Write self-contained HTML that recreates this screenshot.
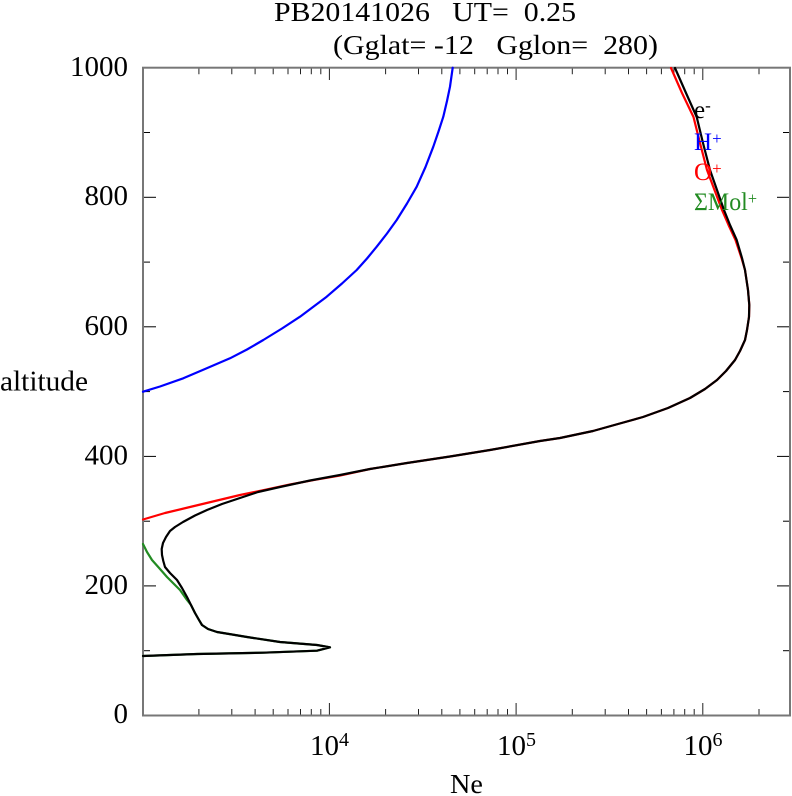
<!DOCTYPE html>
<html>
<head>
<meta charset="utf-8">
<style>
html,body{margin:0;padding:0;background:#fff;}
svg{display:block;}
text{font-family:"Liberation Serif","DejaVu Serif",serif;}
</style>
</head>
<body>
<svg width="792" height="796" viewBox="0 0 792 796" xmlns="http://www.w3.org/2000/svg">
<rect x="0" y="0" width="792" height="796" fill="#fff"/>

<!-- Title -->
<text x="274" y="21" font-size="27" textLength="302" lengthAdjust="spacingAndGlyphs" xml:space="preserve">PB20141026   UT=  0.25</text>
<text x="333" y="54" font-size="27" textLength="325" lengthAdjust="spacingAndGlyphs" xml:space="preserve">(Gglat= -12   Gglon=  280)</text>

<!-- Ticks -->
<g stroke="#000" stroke-width="1">
  <line x1="143" y1="715.5" x2="156" y2="715.5"/>
  <line x1="143" y1="585.9" x2="156" y2="585.9"/>
  <line x1="143" y1="456.4" x2="156" y2="456.4"/>
  <line x1="143" y1="326.8" x2="156" y2="326.8"/>
  <line x1="143" y1="197.3" x2="156" y2="197.3"/>
  <line x1="143" y1="650.7" x2="150" y2="650.7"/>
  <line x1="143" y1="521.2" x2="150" y2="521.2"/>
  <line x1="143" y1="391.6" x2="150" y2="391.6"/>
  <line x1="143" y1="262.1" x2="150" y2="262.1"/>
  <line x1="143" y1="132.5" x2="150" y2="132.5"/>
  <line x1="790" y1="585.9" x2="777" y2="585.9"/>
  <line x1="790" y1="456.4" x2="777" y2="456.4"/>
  <line x1="790" y1="326.8" x2="777" y2="326.8"/>
  <line x1="790" y1="197.3" x2="777" y2="197.3"/>
  <line x1="790" y1="650.7" x2="783" y2="650.7"/>
  <line x1="790" y1="521.2" x2="783" y2="521.2"/>
  <line x1="790" y1="391.6" x2="783" y2="391.6"/>
  <line x1="790" y1="262.1" x2="783" y2="262.1"/>
  <line x1="790" y1="132.5" x2="783" y2="132.5"/>
</g>
<g stroke="#222" stroke-width="1">
  <line x1="329.4" y1="715.5" x2="329.4" y2="703"/>
  <line x1="516.1" y1="715.5" x2="516.1" y2="703"/>
  <line x1="702.8" y1="715.5" x2="702.8" y2="703"/>
  <line x1="329.4" y1="67.7" x2="329.4" y2="80"/>
  <line x1="516.1" y1="67.7" x2="516.1" y2="80"/>
  <line x1="702.8" y1="67.7" x2="702.8" y2="80"/>
  <path d="
  M198.9 715.5 v-6.5 M231.8 715.5 v-6.5 M255.1 715.5 v-6.5 M273.2 715.5 v-6.5 M288.0 715.5 v-6.5 M300.5 715.5 v-6.5 M311.3 715.5 v-6.5 M320.8 715.5 v-6.5
  M385.6 715.5 v-6.5 M418.5 715.5 v-6.5 M441.8 715.5 v-6.5 M459.9 715.5 v-6.5 M474.7 715.5 v-6.5 M487.2 715.5 v-6.5 M498.0 715.5 v-6.5 M507.5 715.5 v-6.5
  M572.3 715.5 v-6.5 M605.2 715.5 v-6.5 M628.5 715.5 v-6.5 M646.6 715.5 v-6.5 M661.4 715.5 v-6.5 M673.9 715.5 v-6.5 M684.7 715.5 v-6.5 M694.2 715.5 v-6.5
  M759.0 715.5 v-6.5
  M198.9 67.7 v6.5 M231.8 67.7 v6.5 M255.1 67.7 v6.5 M273.2 67.7 v6.5 M288.0 67.7 v6.5 M300.5 67.7 v6.5 M311.3 67.7 v6.5 M320.8 67.7 v6.5
  M385.6 67.7 v6.5 M418.5 67.7 v6.5 M441.8 67.7 v6.5 M459.9 67.7 v6.5 M474.7 67.7 v6.5 M487.2 67.7 v6.5 M498.0 67.7 v6.5 M507.5 67.7 v6.5
  M572.3 67.7 v6.5 M605.2 67.7 v6.5 M628.5 67.7 v6.5 M646.6 67.7 v6.5 M661.4 67.7 v6.5 M673.9 67.7 v6.5 M684.7 67.7 v6.5 M694.2 67.7 v6.5
  M759.0 67.7 v6.5" fill="none"/>
</g>

<!-- Frame -->
<rect x="143" y="67.7" width="647" height="647.8" fill="none" stroke="#777" stroke-width="2"/>

<!-- Y tick labels -->
<g font-size="29" text-anchor="end">
  <text x="128" y="76">1000</text>
  <text x="128" y="205">800</text>
  <text x="128" y="335">600</text>
  <text x="128" y="464.5">400</text>
  <text x="128" y="594">200</text>
  <text x="128" y="723">0</text>
</g>

<!-- X tick labels -->
<g font-size="29">
  <text x="310" y="755">10<tspan font-size="20" dy="-9">4</tspan></text>
  <text x="497" y="755">10<tspan font-size="20" dy="-9">5</tspan></text>
  <text x="683.5" y="755">10<tspan font-size="20" dy="-9">6</tspan></text>
</g>

<!-- Axis labels -->
<text x="450" y="793" font-size="27" textLength="33" lengthAdjust="spacingAndGlyphs">Ne</text>
<text x="0" y="390.5" font-size="29" textLength="88" lengthAdjust="spacingAndGlyphs">altitude</text>

<!-- Curves -->
<g fill="none" stroke-width="2.2" stroke-linejoin="round" stroke-linecap="round">
  <polyline stroke="#0000ff" points="143,391.7 160,386.5 183.3,378.3 205,369 230,358.3 247,349.5 263.3,340 282,328.5 300,316.7 313,307 326.7,296.7 342,283.5 356.7,270 367,258.5 376.7,246.7 387,233.5 396.7,220 407,203.5 416.7,186.7 425.5,167 433.3,146.7 438.5,131.5 443.3,116.7 447,101 450,86.7 452.7,67.7"/>
  <polyline stroke="#ff0000" points="671,68 682,93 693.5,117 700,143 707,170 714.5,190 722,210 728.5,225 735.5,240 741.5,258 745,270 748,290 749.3,305 749,317 747,330 745,340 740,351 735,360 726,371 717,380 705,389 690,398 668,408 643,417 618,424 593,431 560,438 540,441 490,450 450,456.5 407,463 370,469 340,475.5 315,479.8 290,484.5 265,489.8 240,495 215,501 190,507 165,513 143,519.5"/>
  <polyline stroke="#228b22" points="143,544 147,552 152,560 160,569 167,577 174,584 180,590 187,600 191,605 195,613 199,620 202,625 208,629 217,632 247,637 280,642 317,645 330,647.3 317,650.7 263,652.7 197,654 143,656"/>
  <polyline stroke="#000000" points="675,68 686,93 696.7,117 703,143 710,170 717,190 724,210 730,225 736.7,240 742,258 745,270 748,290 749.3,305 749,317 747,330 745,340 740,351 735,360 726,371 717,380 705,389 690,398 668,408 643,417 618,424 593,431 560,438 540,441 490,450 450,456.5 407,463 370,469 340,475 310,480.5 280,487 258,492 240,498 222,504 207,510 195,515.5 183,522 175,527 170,531 166,537 163,543 161.7,549 162,555 163.3,561 165,567 170,573 177,580 182,588 187,597 191,605 195,613 199,620 202,625 208,629 217,632 247,637 280,642 317,645 330,647.3 317,650.7 263,652.7 197,654 143,656"/>
</g>

<!-- Legend -->
<g font-size="25">
  <text x="694" y="118" fill="#000">e<tspan font-size="17" dy="-7">-</tspan></text>
  <text x="694" y="150" fill="#0000ff">H<tspan font-size="17" dy="-6">+</tspan></text>
  <text x="694" y="180" fill="#ff0000">O<tspan font-size="17" dy="-6">+</tspan></text>
  <text x="694" y="210" fill="#228b22" textLength="63" lengthAdjust="spacingAndGlyphs">ΣMol<tspan font-size="17" dy="-6">+</tspan></text>
</g>
</svg>
</body>
</html>
